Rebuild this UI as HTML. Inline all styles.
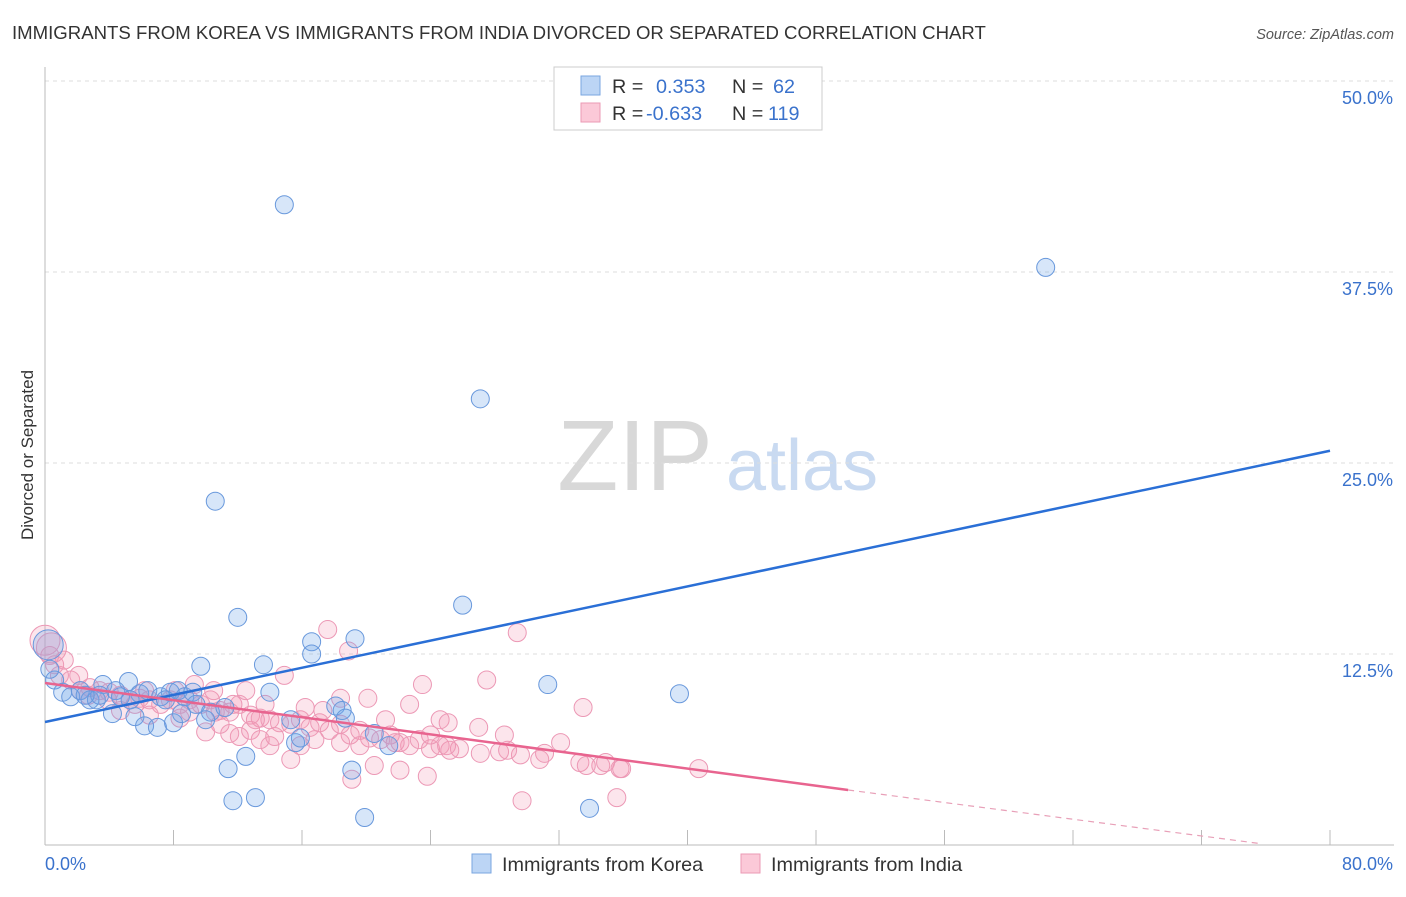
<!DOCTYPE html>
<html><head><meta charset="utf-8"><style>
body{margin:0;background:#fff;font-family:"Liberation Sans",sans-serif;}
svg text{font-family:"Liberation Sans",sans-serif;}
</style></head><body>
<svg id="chart" width="1406" height="892" xmlns="http://www.w3.org/2000/svg">
<text x="12" y="39" font-size="18.6" fill="#333">IMMIGRANTS FROM KOREA VS IMMIGRANTS FROM INDIA DIVORCED OR SEPARATED CORRELATION CHART</text>
<text x="1394" y="39" font-size="14.5" fill="#555" text-anchor="end" font-style="italic">Source: ZipAtlas.com</text>
<text transform="translate(33,455) rotate(-90)" font-size="17" fill="#333" text-anchor="middle">Divorced or Separated</text>
<g>
<text x="635" y="490" font-size="100" fill="#d8d8d8" text-anchor="middle" font-family="Liberation Serif,serif">ZIP</text>
<text x="802" y="490" font-size="72" fill="#c9daf1" text-anchor="middle">atlas</text>
</g>
<g id="grid"></g><g id="axes"></g><g id="pts"></g><g id="lines"></g>
<g>
<rect x="554" y="67" width="268" height="63" fill="#fff" stroke="#ccc"/>
<rect x="581" y="76" width="19" height="19" fill="#bcd5f5" stroke="#7aa6e0"/>
<rect x="581" y="103" width="19" height="19" fill="#fbc9d8" stroke="#eb9ab4"/>
<text x="612" y="93" font-size="19.8" fill="#333">R = </text><text x="656" y="93" font-size="19.8" fill="#3a72cc">0.353</text>
<text x="732" y="93" font-size="19.8" fill="#333">N = </text><text x="773" y="93" font-size="19.8" fill="#3a72cc">62</text>
<text x="612" y="120" font-size="19.8" fill="#333">R = </text><text x="646" y="120" font-size="19.8" fill="#3a72cc">-0.633</text>
<text x="732" y="120" font-size="19.8" fill="#333">N = </text><text x="768" y="120" font-size="19.8" fill="#3a72cc">119</text>
</g>
<g>
<rect x="472" y="854" width="19" height="19" fill="#bcd5f5" stroke="#7aa6e0"/>
<text x="502" y="871" font-size="19.8" fill="#333">Immigrants from Korea</text>
<rect x="741" y="854" width="19" height="19" fill="#fbc9d8" stroke="#eb9ab4"/>
<text x="771" y="871" font-size="19.8" fill="#333">Immigrants from India</text>
</g>
</svg>
<script>
const yTicks=[12.5,25,37.5,50];
const yTickLabels=["12.5%","25.0%","37.5%","50.0%"];
const xTicks=[0,8,16,24,32,40,48,56,64,72,80];
const korea=[[14.9,41.9],[62.3,37.8],[27.1,29.2],[10.6,22.5],[26.0,15.7],[12.0,14.9],[16.6,13.3],[19.3,13.5],[16.6,12.5],[9.7,11.7],[13.6,11.8],[31.3,10.5],[39.5,9.9],[14.0,10.0],[5.2,10.7],[3.6,10.5],[0.6,10.8],[1.1,10.0],[1.6,9.7],[2.2,10.1],[2.8,9.5],[3.2,9.5],[4.4,10.1],[4.7,9.7],[5.9,9.9],[6.4,10.1],[7.2,9.7],[7.8,10.0],[8.3,10.1],[8.7,9.7],[9.2,10.0],[4.2,8.6],[5.6,8.4],[6.2,7.8],[7.0,7.7],[8.0,8.0],[8.5,8.6],[9.4,9.2],[10.3,8.7],[11.2,9.0],[15.3,8.2],[18.1,9.1],[18.5,8.8],[18.7,8.3],[20.5,7.3],[21.4,6.5],[15.6,6.7],[11.4,5.0],[12.5,5.8],[19.1,4.9],[11.7,2.9],[13.1,3.1],[19.9,1.8],[33.9,2.4],[0.3,11.5],[3.4,9.8],[5.3,9.5],[7.5,9.5],[10.0,8.2],[15.9,7.0],[2.5,9.8]];
const koreaBig=[[0.2,13.1]];
const india=[[0.3,12.4],[0.6,11.8],[0.9,11.1],[1.6,10.8],[2.2,10.1],[2.8,10.3],[3.4,10.1],[4.0,10.0],[4.7,9.8],[5.3,9.5],[5.9,9.6],[6.5,9.5],[7.2,9.2],[7.8,9.5],[8.4,9.2],[9.0,9.5],[9.7,9.2],[10.3,9.5],[10.9,8.8],[11.5,8.7],[12.1,9.2],[12.8,8.5],[13.4,8.3],[14.0,8.2],[14.6,8.0],[15.3,7.9],[15.9,8.2],[16.5,7.7],[17.1,8.0],[17.7,7.5],[18.4,7.9],[19.0,7.2],[19.6,7.5],[20.2,7.0],[20.9,6.9],[21.5,7.2],[22.1,6.7],[22.7,6.5],[23.3,6.9],[24.0,6.3],[24.6,6.5],[25.2,6.2],[25.8,6.3],[27.1,6.0],[28.3,6.1],[29.6,5.9],[30.8,5.6],[32.1,6.7],[33.3,5.4],[34.6,5.2],[35.8,5.0],[40.7,5.0],[17.6,14.1],[29.4,13.9],[18.9,12.7],[27.5,10.8],[14.9,11.1],[23.5,10.5],[20.1,9.6],[22.7,9.2],[33.5,9.0],[24.6,8.2],[25.1,8.0],[27.0,7.7],[28.6,7.2],[24.0,7.2],[29.7,2.9],[35.6,3.1],[23.8,4.5],[22.1,4.9],[20.5,5.2],[19.1,4.3],[15.3,5.6],[14.0,6.5],[12.1,7.1],[11.5,7.3],[10.0,7.4],[10.5,10.1],[9.3,10.5],[8.1,10.1],[6.2,10.1],[1.2,12.1],[2.1,11.1],[4.7,8.8],[6.5,8.5],[8.4,8.3],[9.0,8.7],[10.9,7.9],[12.8,7.5],[13.4,6.9],[14.3,7.1],[15.9,6.5],[16.8,6.9],[18.4,6.7],[19.6,6.5],[21.2,8.2],[21.8,6.7],[18.4,9.6],[17.3,8.8],[16.2,9.0],[13.7,9.2],[13.1,8.2],[12.5,10.1],[11.7,9.2],[10.6,8.7],[5.6,9.2],[3.9,9.5],[2.7,9.8],[25.0,6.5],[28.8,6.2],[31.1,6.0],[33.7,5.2],[34.9,5.4],[35.9,5.0]];
const indiaBig=[[0,13.4],[0.4,12.9]];
const koreaTrend=[[0,8.05],[80,25.8]];
const indiaTrend=[[0,10.6],[50,3.6]];
const indiaTrendExt=[[50,3.6],[75.6,0.1]];

const NS="http://www.w3.org/2000/svg";
const X=v=>45+v/80*1285;
const Y=v=>845-v/12.5*191;
function mk(tag,attrs,parent){const e=document.createElementNS(NS,tag);for(const k in attrs)e.setAttribute(k,attrs[k]);document.getElementById(parent).appendChild(e);return e;}
yTicks.forEach((t,i)=>{
  const l=mk('line',{x1:45,x2:1394,y1:Y(t),y2:Y(t),stroke:'#ddd','stroke-dasharray':'4,4'},'grid');
  
  
  const tx=mk('text',{x:1393,y:Y(t)+23,'font-size':18,fill:'#3a72cc','text-anchor':'end'},'axes');
  tx.textContent=yTickLabels[i];
  
  
});
const ax=mk('line',{x1:45,x2:45,y1:67,y2:845,stroke:'#bbb'},'axes');


const bx=mk('line',{x1:45,x2:1394,y1:845,y2:845,stroke:'#bbb'},'axes');


xTicks.forEach(t=>{
  const l=mk('line',{x1:X(t),x2:X(t),y1:830,y2:845,stroke:'#bbb'},'axes');
  
  
});
const x0=mk('text',{x:45,y:870,'font-size':18,fill:'#3a72cc'},'axes');x0.textContent="0.0%";


const x1=mk('text',{x:1393,y:870,'font-size':18,fill:'#3a72cc','text-anchor':'end'},'axes');x1.textContent="80.0%";


function dots(arr,r,fill,stroke,name){arr.forEach(p=>{
  const c=mk('circle',{cx:X(p[0]),cy:Y(p[1]),r:r,fill:fill,stroke:stroke,'stroke-width':1},'pts');
  
  
});}
dots(india,9,'rgba(245,150,180,0.25)','#ec98b5','india-point');
dots(indiaBig,15,'rgba(245,150,180,0.25)','#ec98b5','india-point');
dots(korea,9,'rgba(110,165,235,0.28)','#6898dc','korea-point');
dots(koreaBig,15,'rgba(110,165,235,0.28)','#6898dc','korea-point');
function line(a,st,w,dash,name){
  const l=mk('line',{x1:X(a[0][0]),y1:Y(a[0][1]),x2:X(a[1][0]),y2:Y(a[1][1]),stroke:st,'stroke-width':w},'lines');
  if(dash)l.setAttribute('stroke-dasharray',dash);
  
  
}
line(koreaTrend,'#2a6fd6',2.5,null,'korea-trend-line');
line(indiaTrend,'#e8648f',2.5,null,'india-trend-line');
line(indiaTrendExt,'#e8a0b8',1.2,'6,5','india-trend-extension');
</script>
</body></html>
